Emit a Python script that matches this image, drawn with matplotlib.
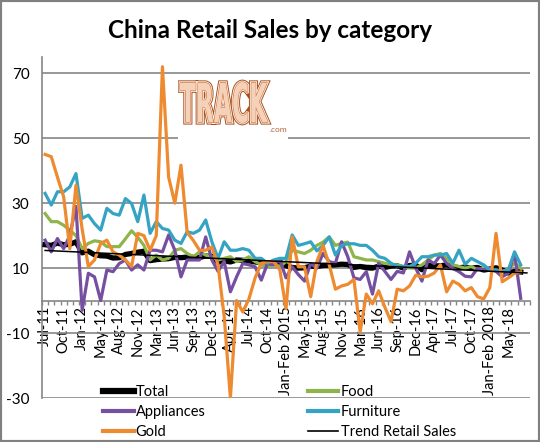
import numpy as np
import matplotlib
matplotlib.use('Agg')
import matplotlib.pyplot as plt
from matplotlib.lines import Line2D
from matplotlib.patches import Rectangle, PathPatch
from matplotlib.textpath import TextPath
from matplotlib.font_manager import FontProperties
from matplotlib.transforms import Affine2D
import matplotlib.patheffects as pe

plt.rcParams['font.family'] = ['Lato', 'DejaVu Sans']
plt.rcParams['axes.unicode_minus'] = False

# monthly yoy growth, Jul-11 .. Jul-18 (Jan and Feb reported together)
total = [17.2, 17.0, 17.7, 17.2, 17.3, 18.1, 14.7, 15.2, 14.1, 13.8,
         13.7, 13.1, 13.2, 14.2, 14.5, 14.9, 15.2, 12.3, 12.6, 12.8,
         12.9, 13.3, 13.2, 13.4, 13.3, 13.3, 13.7, 13.6, 11.8, 12.2,
         11.9, 12.5, 12.4, 12.2, 11.9, 11.6, 11.5, 11.7, 11.9, 10.7,
         10.2, 10.0, 10.1, 10.6, 10.5, 10.8, 10.9, 11.0, 11.2, 11.1,
         10.2, 10.5, 10.1, 10.0, 10.6, 10.2, 10.6, 10.7, 10.0, 10.8,
         10.9, 9.5, 10.9, 10.7, 10.7, 11.0, 10.4, 10.1, 10.3, 10.0,
         10.2, 9.4, 9.7, 10.1, 9.4, 8.5, 9.0, 8.8]

food = [26.8, 24.3, 24.3, 23.2, 21.7, 20.0, 16.0, 17.6, 18.4, 18.1,
        16.6, 16.6, 16.6, 19.0, 21.5, 19.5, 17.0, 12.5, 14.0, 12.5,
        13.0, 15.5, 16.0, 14.5, 13.5, 15.0, 14.0, 13.5, 12.5, 13.0,
        13.5, 12.0, 12.5, 13.5, 12.0, 11.0, 10.5, 11.0, 10.5, 12.0,
        15.5, 15.0, 14.5, 15.5, 17.0, 18.0, 19.6, 17.0, 17.6, 18.0,
        13.5, 13.0, 12.5, 12.5, 12.0, 11.5, 11.0, 11.0, 10.5, 10.0,
        10.0, 11.0, 12.5, 14.0, 14.5, 13.0, 11.0, 10.5, 10.0, 10.5,
        9.5, 10.0, 9.5, 9.0, 9.0, 9.5, 11.5, 10.0]

appliances = [18.6, 15.0, 19.1, 16.0, 20.0, 29.0, -3.0, 8.4, 7.3, 0.0,
              9.4, 8.9, 11.4, 12.5, 9.4, 11.0, 9.4, 15.5, 15.5, 15.0,
              20.2, 15.5, 7.3, 12.5, 12.5, 12.5, 19.6, 12.5, 9.0, 12.0,
              2.7, 7.3, 11.4, 11.0, 10.4, 6.3, 11.4, 11.0, 12.5, 7.0,
              10.4, 8.0, 6.0, 11.4, 10.0, 14.5, 12.0, 11.5, 18.1, 13.5,
              7.0, 6.5, 8.9, 2.0, 11.5, 9.0, 6.5, 9.0, 8.5, 15.0,
              10.0, 6.0, 12.5, 11.4, 14.0, 11.5, 9.9, 8.9, 7.5, 7.3,
              9.9, 9.5, 10.0, 9.0, 7.3, 8.5, 14.5, 0.7]

furniture = [33.0, 29.4, 33.5, 33.5, 35.0, 39.1, 25.3, 26.3, 23.7, 21.7,
             28.4, 26.8, 26.3, 31.4, 29.9, 24.3, 32.5, 20.7, 24.3, 22.2,
             21.7, 18.6, 17.6, 21.2, 20.7, 21.7, 24.8, 18.1, 13.0, 18.1,
             15.5, 15.5, 16.0, 15.5, 13.0, 13.0, 11.5, 12.5, 13.0, 13.0,
             20.2, 17.0, 17.5, 18.1, 15.3, 17.0, 19.6, 14.0, 17.0, 17.5,
             17.5, 17.0, 17.0, 15.5, 13.5, 13.0, 11.5, 10.5, 10.5, 10.5,
             11.5, 13.5, 13.5, 14.0, 14.0, 14.5, 11.5, 15.5, 11.2, 13.0,
             12.0, 11.0, 9.4, 9.5, 9.0, 9.5, 15.0, 11.0]

gold = [45.0, 44.3, 38.0, 32.0, 16.0, 35.5, 22.0, 10.5, 12.5, 17.6,
        18.6, 15.0, 14.0, 12.5, 10.5, 20.7, 20.0, 15.5, 20.0, 72.0,
        38.0, 30.0, 41.7, 21.0, 18.5, 15.5, 15.5, 16.5, 11.0, -5.0,
        -30.0, 0.0, -3.5, 0.5, 7.0, 11.5, 12.0, 12.0, 9.5, -2.5,
        19.6, 10.4, 10.4, 1.2, 12.0, 17.0, 11.0, 3.5, 4.5, 5.0,
        6.5, -9.7, 2.0, -1.0, 3.0, -2.0, -6.5, 3.5, 3.0, 4.5,
        7.8, 7.3, 7.5, 8.5, 11.0, 2.7, 6.0, 5.0, 3.0, 4.0,
        1.2, 0.5, 4.0, 20.7, 5.8, 7.0, 8.4, 8.8]

# every third category is labelled
tick_labels = ['Jul-11', 'Oct-11', 'Jan-12', 'May-12', 'Aug-12', 'Nov-12',
               'Mar-13', 'Jun-13', 'Sep-13', 'Dec-13', 'Apr-14', 'Jul-14',
               'Oct-14', 'Jan-Feb 2015', 'May-15', 'Aug-15', 'Nov-15',
               'Mar-16', 'Jun-16', 'Sep-16', 'Dec-16', 'Apr-17', 'Jul-17',
               'Oct-17', 'Jan-Feb 2018', 'May-18']

c_food = '#8EB44A'
c_app = '#7550A0'
c_furn = '#35A3C3'
c_gold = '#EE8A2F'
c_grid = '#868686'

W, H = 540, 442
fig = plt.figure(figsize=(W / 100, H / 100), dpi=100)
ax = fig.add_axes([42 / W, 1 - 398 / H, 488 / W, 341 / H])

x = np.arange(len(total))
# linear trendline of total, forecast one period forward like excel does
coef = np.polyfit(x, total, 1)
x_trend = np.arange(len(total) + 1)
trend = np.polyval(coef, x_trend)

ax.plot(x, total, color='black', lw=3.8, zorder=3)
ax.plot(x, food, color=c_food, lw=2.3, zorder=4)
ax.plot(x, appliances, color=c_app, lw=2.3, zorder=5)
ax.plot(x, furniture, color=c_furn, lw=2.3, zorder=6)
ax.plot(x, gold, color=c_gold, lw=2.3, zorder=7)
ax.plot(x_trend, trend, color='black', lw=1.1, zorder=8)

ax.set_xlim(-0.5, len(x_trend) - 0.5)
ax.set_ylim(-30, 75)
ax.set_yticks([-30, -10, 10, 30, 50, 70])
ax.grid(axis='y', color=c_grid, lw=1.2)
ax.set_axisbelow(True)

for s in ['top', 'right']:
    ax.spines[s].set_visible(False)
ax.spines['left'].set_color(c_grid)
ax.spines['left'].set_linewidth(1.2)
ax.spines['bottom'].set_position(('data', 0))
ax.spines['bottom'].set_color(c_grid)
ax.spines['bottom'].set_linewidth(1.2)

ax.set_xticks(np.arange(len(tick_labels)) * 3)
ax.set_xticklabels(tick_labels, rotation=90, fontsize=10.5)
ax.tick_params(axis='x', which='major', length=0, pad=4)
ax.set_xticks(np.arange(-0.5, len(x_trend), 1), minor=True)
ax.tick_params(axis='x', which='minor', length=3, width=1, color=c_grid,
               direction='out')
ax.tick_params(axis='y', length=0, labelsize=11, pad=9)

# legend, two columns across the bottom
handles = [Line2D([], [], color='black', lw=4.5),
           Line2D([], [], color=c_app, lw=3),
           Line2D([], [], color=c_gold, lw=3),
           Line2D([], [], color=c_food, lw=3),
           Line2D([], [], color=c_furn, lw=3),
           Line2D([], [], color='black', lw=1.2)]
labels = ['Total', 'Appliances', 'Gold', 'Food', 'Furniture',
          'Trend Retail Sales']
fig.legend(handles, labels, loc='upper left',
           bbox_to_anchor=(103 / W, 1 - 385 / H), ncol=2, frameon=False,
           fontsize=10.5, handlelength=2.1, handletextpad=0.15,
           columnspacing=7.0, labelspacing=0.42, borderpad=0,
           borderaxespad=0)

fig.text(0.5, 1 - 31 / H, 'China Retail Sales by category', ha='center',
         va='center', fontsize=17.5, fontweight='bold')

# TRACK logo in a white box
lax = fig.add_axes([178 / W, 1 - 142 / H, 110 / W, 66 / H])
lax.set_xlim(0, 110)
lax.set_ylim(0, 66)
lax.set_xticks([])
lax.set_yticks([])
for s in lax.spines.values():
    s.set_visible(False)
lax.patch.set_facecolor('white')
tp = TextPath((0, 0), 'TRACK', size=1,
              prop=FontProperties(family='DejaVu Sans', weight='bold'))
ext = tp.get_extents()
tr = (Affine2D().translate(-ext.x0, -ext.y0)
      .scale(88 / ext.width, 41 / ext.height).translate(2, 19))
logo = PathPatch(tr.transform_path(tp), facecolor='#F4D2BA',
                 edgecolor='none')
logo.set_path_effects([pe.Stroke(linewidth=3.4, foreground='#A4501E'),
                       pe.Stroke(linewidth=2.0, foreground='white'),
                       pe.Stroke(linewidth=0.9, foreground='#D8753A'),
                       pe.Normal()])
lax.add_patch(logo)
lax.text(92, 12, '.com', fontsize=6, color='#B0683A', ha='left',
         va='center')

fig.patches.append(Rectangle((0, 0), 1, 1, transform=fig.transFigure,
                             fill=False, edgecolor='#808080', lw=3))

fig.savefig('out.png', dpi=100)
